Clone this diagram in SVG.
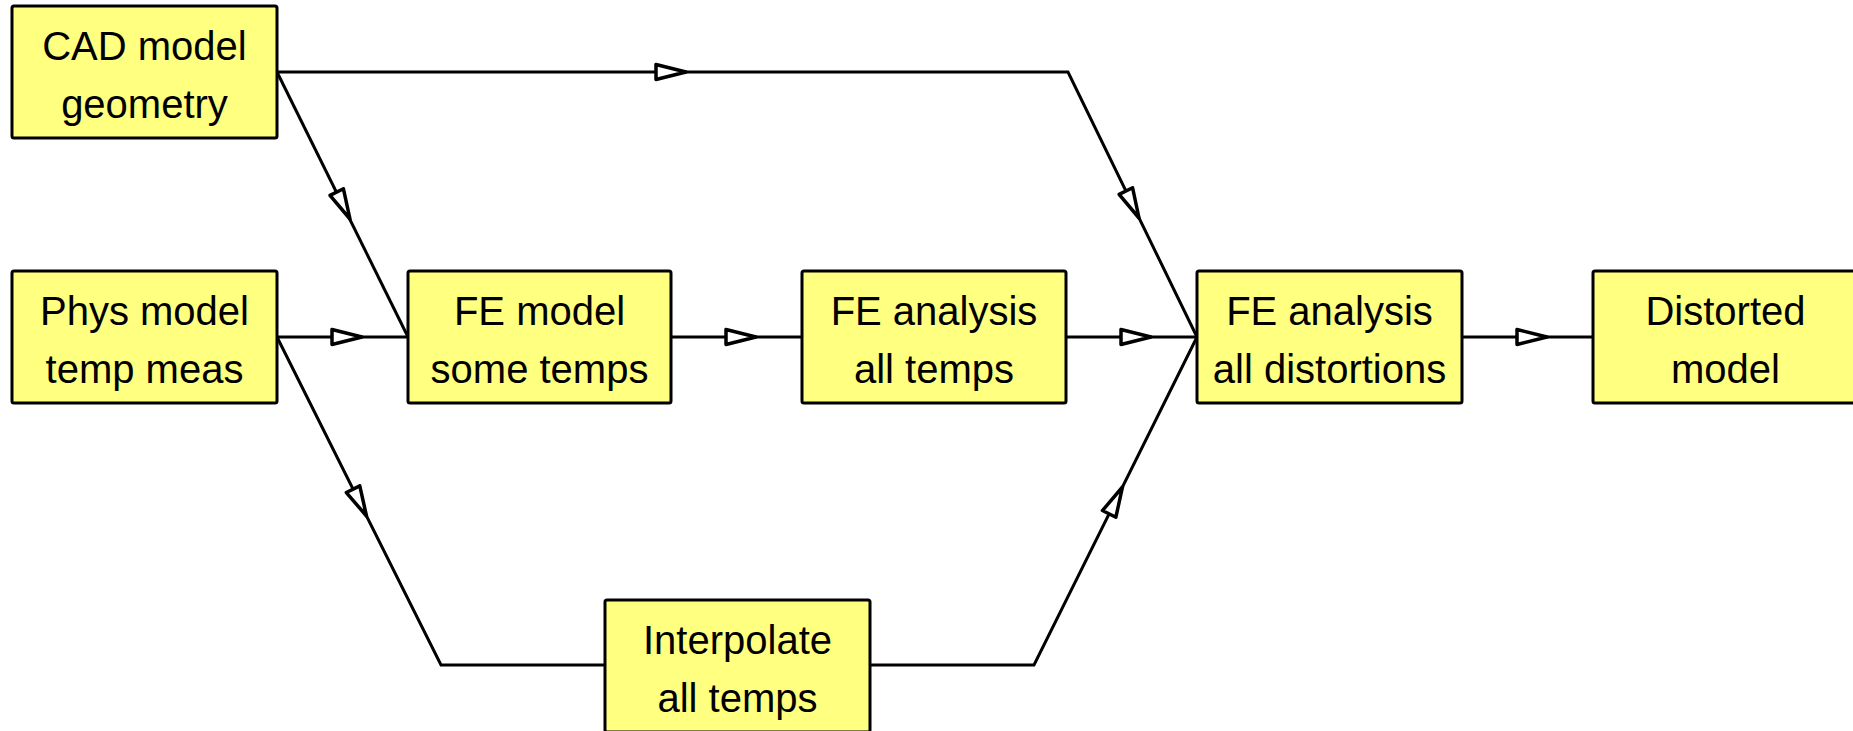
<svg xmlns="http://www.w3.org/2000/svg" width="1853" height="731" viewBox="0 0 1853 731">
<style>
.box{fill:#ffff80;stroke:#000;stroke-width:3;}
.t{font-family:"Liberation Sans",Arial,sans-serif;font-size:40px;fill:#000;text-anchor:middle;}
.ln{fill:none;stroke:#000;stroke-width:3;stroke-linejoin:miter;}
.ah{fill:#fff;stroke:#000;stroke-width:3.5;stroke-linejoin:round;}
</style>
<defs>
<path id="arr" d="M0,0 L-30,-7.5 L-30,7.5 Z"/>
</defs>
<rect width="1853" height="731" fill="#fff"/>
<g id="connectors">
<polyline class="ln" points="277,72 1068,72 1197,337"/>
<polyline class="ln" points="277,72 408,337"/>
<polyline class="ln" points="277,337 408,337"/>
<polyline class="ln" points="671,337 802,337"/>
<polyline class="ln" points="1066,337 1197,337"/>
<polyline class="ln" points="1462,337 1593,337"/>
<polyline class="ln" points="277,337 441,665 605,665"/>
<polyline class="ln" points="870,665 1034,665 1197,337"/>
<use href="#arr" class="ah" transform="translate(686,72)"/>
<use href="#arr" class="ah" transform="translate(1139,218) rotate(64)"/>
<use href="#arr" class="ah" transform="translate(350,219) rotate(63.7)"/>
<use href="#arr" class="ah" transform="translate(362,337)"/>
<use href="#arr" class="ah" transform="translate(756,337)"/>
<use href="#arr" class="ah" transform="translate(1151,337)"/>
<use href="#arr" class="ah" transform="translate(1547,337)"/>
<use href="#arr" class="ah" transform="translate(366.5,516) rotate(63.4)"/>
<use href="#arr" class="ah" transform="translate(1122.5,487) rotate(-63.6)"/>
</g>
<g id="cad"><rect class="box" x="12" y="6" width="265" height="132" rx="2"/><text class="t" x="144.5" y="60">CAD model</text><text class="t" x="144.5" y="118">geometry</text></g>
<g id="phys"><rect class="box" x="12" y="271" width="265" height="132" rx="2"/><text class="t" x="144.5" y="325">Phys model</text><text class="t" x="144.5" y="383">temp meas</text></g>
<g id="femodel"><rect class="box" x="408" y="271" width="263" height="132" rx="2"/><text class="t" x="539.5" y="325">FE model</text><text class="t" x="539.5" y="383">some temps</text></g>
<g id="feanalysis"><rect class="box" x="802" y="271" width="264" height="132" rx="2"/><text class="t" x="934" y="325">FE analysis</text><text class="t" x="934" y="383">all temps</text></g>
<g id="fedist"><rect class="box" x="1197" y="271" width="265" height="132" rx="2"/><text class="t" x="1329.5" y="325">FE analysis</text><text class="t" x="1329.5" y="383">all distortions</text></g>
<g id="distorted"><rect class="box" x="1593" y="271" width="265" height="132" rx="2"/><text class="t" x="1725.5" y="325">Distorted</text><text class="t" x="1725.5" y="383">model</text></g>
<g id="interp"><rect class="box" x="605" y="600" width="265" height="132" rx="2"/><text class="t" x="737.5" y="654">Interpolate</text><text class="t" x="737.5" y="712">all temps</text></g>
</svg>
